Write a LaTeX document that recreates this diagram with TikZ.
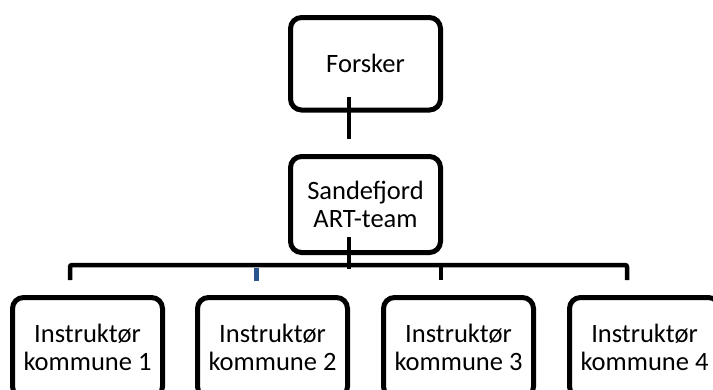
\documentclass[tikz,border=0pt]{standalone}
\usepackage{fontspec}
\setmainfont{Carlito}
\definecolor{dropblue}{RGB}{41,84,140}
\begin{document}
\begin{tikzpicture}[x=1pt,y=-1pt,
  box/.style={draw=black,line width=5pt,rounded corners=11pt,minimum width=150pt,
    align=center,inner sep=0pt,font=\fontsize{26.5}{28}\selectfont},
  conn/.style={draw=black,line width=4.5pt}]
\useasboundingbox (0,0) rectangle (713,389);
\clip (0,0) rectangle (713,389);
\node[box,minimum height=92.5pt] (F) at (365.5,63.75) {Forsker};
\node[box,minimum height=96pt] (S) at (365.5,204.5) {Sandefjord\\ART-team};
\node[box,minimum height=100pt] (I1) at (87.5,347.5) {Instruktør\\kommune 1};
\node[box,minimum height=100pt] (I2) at (272.5,347.5) {Instruktør\\kommune 2};
\node[box,minimum height=100pt] (I3) at (458.5,347.5) {Instruktør\\kommune 3};
\node[box,minimum height=100pt] (I4) at (644.5,347.5) {Instruktør\\kommune 4};
% free ends
\coordinate (fa) at (349,97);
\coordinate (fb) at (349,139);
\coordinate (sa) at (349,237);
\coordinate (sb) at (349,269);
\coordinate (d1) at (70,280);
\coordinate (d2a) at (256,268);
\coordinate (d2b) at (256,281);
\coordinate (d3) at (441,280);
\coordinate (d4) at (627,280);
\coordinate (bus) at (349,265);
\draw[conn] (fa) -- (fb);
\draw[conn] (sa) -- (sb);
\draw[conn,rounded corners=2pt] (d1) |- (bus) -| (d4);
\draw[conn] (d3 |- bus) -- (d3);
\draw[line width=5pt,draw=dropblue] (d2a) -- (d2b);
\end{tikzpicture}
\end{document}
